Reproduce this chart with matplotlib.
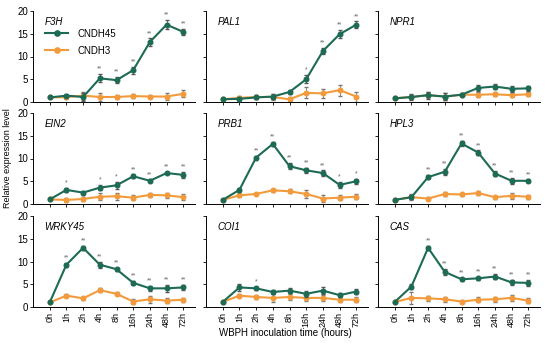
import numpy as np
import matplotlib
matplotlib.use("Agg")
import matplotlib.pyplot as plt
from matplotlib.lines import Line2D

plt.rcParams["font.family"] = ["Liberation Sans", "DejaVu Sans"]

times = ["0h", "1h", "2h", "4h", "8h", "16h", "24h", "48h", "72h"]
genes = ["F3H", "PAL1", "NPR1", "EIN2", "PRB1", "HPL3", "WRKY45", "COI1", "CAS"]

# CNDH45 means
cndh45 = {
    "F3H":    [1.0, 1.4, 1.1, 5.2, 4.8, 7.0, 13.2, 17.0, 15.4],
    "PAL1":   [0.6, 0.7, 1.0, 1.2, 2.2, 5.0, 11.2, 14.9, 17.0],
    "NPR1":   [0.8, 1.1, 1.5, 1.2, 1.6, 3.1, 3.4, 2.9, 3.0],
    "EIN2":   [1.0, 3.1, 2.5, 3.6, 4.1, 6.1, 5.1, 6.8, 6.4],
    "PRB1":   [0.9, 3.1, 10.2, 13.2, 8.3, 7.4, 6.8, 4.2, 5.0],
    "HPL3":   [0.9, 1.5, 5.9, 7.1, 13.3, 11.3, 6.7, 5.1, 5.1],
    "WRKY45": [1.0, 9.3, 13.0, 9.3, 8.3, 5.3, 4.1, 4.1, 4.3],
    "COI1":   [1.1, 4.3, 4.1, 3.3, 3.6, 2.9, 3.6, 2.6, 3.4],
    "CAS":    [1.1, 4.5, 13.0, 7.7, 6.1, 6.3, 6.7, 5.4, 5.3],
}
cndh45_err = {
    "F3H":    [0.2, 0.3, 0.8, 0.9, 0.7, 0.8, 0.8, 1.0, 0.7],
    "PAL1":   [0.2, 0.4, 0.3, 0.5, 0.5, 0.9, 0.7, 0.9, 0.7],
    "NPR1":   [0.2, 0.6, 0.8, 0.8, 0.3, 0.6, 0.6, 0.6, 0.5],
    "EIN2":   [0.2, 0.5, 0.3, 0.6, 0.8, 0.4, 0.3, 0.3, 0.6],
    "PRB1":   [0.2, 0.5, 0.4, 0.5, 0.7, 0.6, 0.6, 0.6, 0.5],
    "HPL3":   [0.2, 0.5, 0.5, 0.7, 0.5, 0.5, 0.6, 0.6, 0.3],
    "WRKY45": [0.2, 0.4, 0.5, 0.7, 0.3, 0.5, 0.5, 0.7, 0.5],
    "COI1":   [0.2, 0.7, 0.4, 0.5, 0.5, 0.6, 0.7, 0.4, 0.6],
    "CAS":    [0.2, 0.6, 0.5, 0.6, 0.3, 0.4, 0.5, 0.6, 0.6],
}
# CNDH3 means
cndh3 = {
    "F3H":    [1.0, 1.1, 1.4, 1.1, 1.1, 1.3, 1.2, 1.2, 1.8],
    "PAL1":   [0.6, 0.9, 1.1, 1.1, 0.6, 2.0, 1.9, 2.6, 1.2],
    "NPR1":   [0.8, 1.1, 1.5, 1.2, 1.6, 1.6, 1.7, 1.5, 1.7],
    "EIN2":   [1.0, 0.9, 1.1, 1.6, 1.7, 1.4, 2.0, 1.9, 1.5],
    "PRB1":   [0.9, 1.9, 2.2, 3.0, 2.8, 2.2, 1.2, 1.4, 1.6],
    "HPL3":   [0.9, 1.5, 1.2, 2.2, 2.1, 2.4, 1.5, 1.8, 1.6],
    "WRKY45": [1.0, 2.5, 1.9, 3.7, 2.9, 1.2, 1.7, 1.4, 1.6],
    "COI1":   [1.1, 2.5, 2.2, 2.0, 2.2, 2.0, 2.0, 1.6, 1.6],
    "CAS":    [1.1, 2.0, 1.9, 1.7, 1.2, 1.6, 1.7, 2.0, 1.4],
}
cndh3_err = {
    "F3H":    [0.2, 0.5, 0.9, 0.8, 0.4, 0.5, 0.4, 0.7, 0.8],
    "PAL1":   [0.2, 0.5, 0.4, 0.6, 0.4, 1.2, 1.0, 1.2, 1.1],
    "NPR1":   [0.2, 0.5, 0.7, 0.7, 0.3, 0.5, 0.4, 0.5, 0.4],
    "EIN2":   [0.2, 0.5, 0.4, 0.8, 0.8, 0.5, 0.4, 0.5, 0.6],
    "PRB1":   [0.2, 0.4, 0.3, 0.3, 0.4, 0.8, 0.7, 0.6, 0.5],
    "HPL3":   [0.2, 0.6, 0.3, 0.4, 0.4, 0.5, 0.3, 0.6, 0.4],
    "WRKY45": [0.2, 0.3, 0.3, 0.4, 0.3, 0.5, 0.8, 0.5, 0.4],
    "COI1":   [0.2, 0.4, 0.4, 0.8, 0.6, 0.7, 0.6, 0.5, 0.5],
    "CAS":    [0.2, 1.3, 0.5, 0.5, 0.4, 0.6, 0.6, 0.6, 0.6],
}
# significance marks above CNDH45
signif = {
    "F3H":    ["", "", "", "**", "**", "**", "**", "**", "**"],
    "PAL1":   ["", "", "", "", "", "*", "**", "**", "**"],
    "NPR1":   ["", "", "", "", "", "", "", "", ""],
    "EIN2":   ["", "*", "", "*", "*", "**", "**", "**", "**"],
    "PRB1":   ["", "", "**", "**", "**", "**", "**", "*", "*"],
    "HPL3":   ["", "", "**", "**", "**", "**", "**", "**", "**"],
    "WRKY45": ["", "**", "**", "**", "**", "**", "**", "**", "**"],
    "COI1":   ["", "", "*", "", "", "", "", "", ""],
    "CAS":    ["", "", "**", "**", "**", "**", "**", "**", "**"],
}

green = "#1d6a55"
orange = "#f39b3c"

fig = plt.figure(figsize=(5.5, 3.43), dpi=100)
lefts = [33 / 550, 206 / 550, 378 / 550]
bottoms = [1 - 102 / 343, 1 - 204 / 343, 1 - 307 / 343]
w, h = 162 / 550, 91 / 343

x = np.arange(len(times))
for idx, gene in enumerate(genes):
    r, c = divmod(idx, 3)
    ax = fig.add_axes([lefts[c], bottoms[r], w, h])
    ax.errorbar(x, cndh3[gene], yerr=cndh3_err[gene], color=orange, marker="o",
                ms=3.3, lw=1.5, elinewidth=0.6, capsize=1.5, ecolor="#777777",
                zorder=2)
    ax.errorbar(x, cndh45[gene], yerr=cndh45_err[gene], color=green, marker="o",
                ms=3.3, lw=1.5, elinewidth=0.6, capsize=1.5, ecolor="#555555",
                zorder=3)
    for xi, m, e, s in zip(x, cndh45[gene], cndh45_err[gene], signif[gene]):
        if s:
            ax.text(xi, m + e + 0.3, s, ha="center", va="bottom", fontsize=5,
                    color="#666666")
    ax.text(0.07, 0.93, gene, transform=ax.transAxes, style="italic",
            fontsize=7, va="top", ha="left")
    ax.set_xlim(-1, 8.7)
    ax.set_ylim(0, 20)
    ax.set_yticks([0, 5, 10, 15, 20])
    ax.set_xticks(x)
    for s in ["top", "right"]:
        ax.spines[s].set_visible(False)
    for s in ["left", "bottom"]:
        ax.spines[s].set_linewidth(0.7)
    ax.tick_params(length=2, width=0.6, labelsize=7, pad=1.5)
    if c == 0:
        ax.set_yticklabels(["0", "5", "10", "15", "20"])
    else:
        ax.set_yticklabels([])
    if r == 2:
        ax.set_xticklabels(times, rotation=90, fontsize=6.5)
    else:
        ax.set_xticklabels([])
    if idx == 0:
        handles = [Line2D([], [], color=green, marker="o", ms=3.8, lw=1.5),
                   Line2D([], [], color=orange, marker="o", ms=3.8, lw=1.5)]
        ax.legend(handles, ["CNDH45", "CNDH3"], loc="upper left",
                  bbox_to_anchor=(0.02, 0.9), frameon=False, fontsize=7,
                  handlelength=2.4, handletextpad=0.9, labelspacing=0.7)

fig.text(8 / 550, 1 - 158 / 343, "Relative expression level", rotation=90,
         ha="center", va="center", fontsize=6.5)
fig.text(285 / 550, 1 - 333 / 343, "WBPH inoculation time (hours)",
         ha="center", va="center", fontsize=7)

fig.savefig("out.png", dpi=100)
